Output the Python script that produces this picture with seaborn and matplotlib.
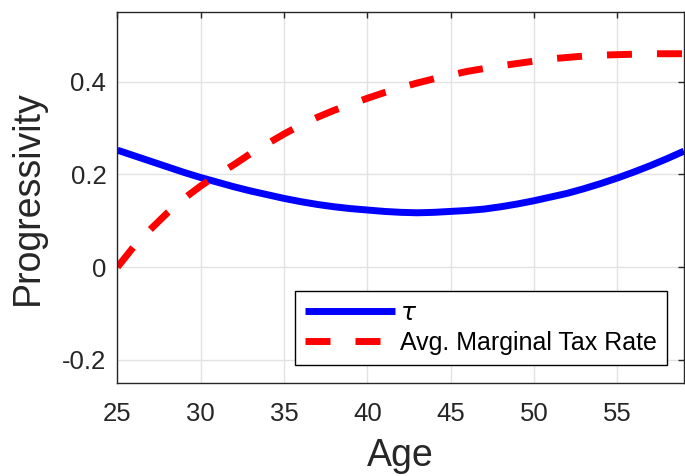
import matplotlib
matplotlib.use("Agg")
import matplotlib.pyplot as plt
import seaborn as sns
import pandas as pd

# Ages on the horizontal axis
ages = list(range(25, 60))

# Progressivity parameter tau by age
tau = [0.252, 0.240, 0.228, 0.216, 0.204, 0.193, 0.183, 0.173, 0.164, 0.156,
       0.148, 0.141, 0.135, 0.130, 0.126, 0.123, 0.120, 0.118, 0.117, 0.118,
       0.120, 0.122, 0.125, 0.130, 0.136, 0.143, 0.151, 0.159, 0.169, 0.180,
       0.192, 0.205, 0.219, 0.234, 0.250]

# Average marginal tax rate by age
avg_mtr = [0.000, 0.045, 0.082, 0.117, 0.148, 0.175, 0.199, 0.221, 0.245, 0.266,
           0.287, 0.306, 0.323, 0.338, 0.351, 0.364, 0.376, 0.387, 0.397, 0.406,
           0.414, 0.422, 0.428, 0.434, 0.439, 0.444, 0.449, 0.452, 0.455, 0.457,
           0.458, 0.459, 0.460, 0.460, 0.460]

series_labels = [r"$\tau$", "Avg. Marginal Tax Rate"]

x_ticks = [25, 30, 35, 40, 45, 50, 55]
x_tick_labels = ["25", "30", "35", "40", "45", "50", "55"]
y_ticks = [-0.2, 0, 0.2, 0.4]
y_tick_labels = ["-0.2", "0", "0.2", "0.4"]

sns.set_style("white")
plt.rcParams["font.family"] = ["Liberation Sans", "DejaVu Sans"]
plt.rcParams["mathtext.fontset"] = "dejavusans"

df = pd.DataFrame({"Age": ages, "tau": tau, "mtr": avg_mtr})

fig = plt.figure(figsize=(6.85, 4.76), dpi=100)
ax = fig.add_axes([0.1715, 0.1954, 0.8270, 0.7794])

sns.lineplot(data=df, x="Age", y="tau", ax=ax, color="#0000ff", linewidth=5,
             label=series_labels[0], solid_capstyle="butt")
sns.lineplot(data=df, x="Age", y="mtr", ax=ax, color="#ff0000", linewidth=5,
             label=series_labels[1], dash_capstyle="butt")
ax.lines[1].set_dashes([3.6, 3.6])

ax.set_xlim(25, 59)
ax.set_ylim(-0.25, 0.55)
ax.set_xticks(x_ticks)
ax.set_xticklabels(x_tick_labels)
ax.set_yticks(y_ticks)
ax.set_yticklabels(y_tick_labels)

ax.grid(True, color="#e2e2e2", linewidth=1.0)
ax.set_axisbelow(True)

for s in ax.spines.values():
    s.set_visible(True)
    s.set_color("#262626")
    s.set_linewidth(1.0)

ax.tick_params(direction="in", top=True, right=True, length=4, width=1,
               color="#262626", labelcolor="#262626", labelsize=18.5)
ax.tick_params(axis="x", pad=14)
ax.tick_params(axis="y", pad=8)

ax.set_xlabel("Age", fontsize=27, color="#262626", labelpad=8)
ax.set_ylabel("Progressivity", fontsize=27, color="#262626", labelpad=12)

leg = ax.legend(loc="lower right", bbox_to_anchor=(0.970, 0.0485),
                bbox_transform=ax.transAxes, borderaxespad=0,
                fontsize=18, handlelength=3.6, handletextpad=0.2,
                labelspacing=0.25, borderpad=0.4, fancybox=False,
                framealpha=1, edgecolor="black")
leg.get_frame().set_linewidth(1.0)
for t in leg.get_texts():
    t.set_color("black")

fig.savefig("out.png", dpi=100)
